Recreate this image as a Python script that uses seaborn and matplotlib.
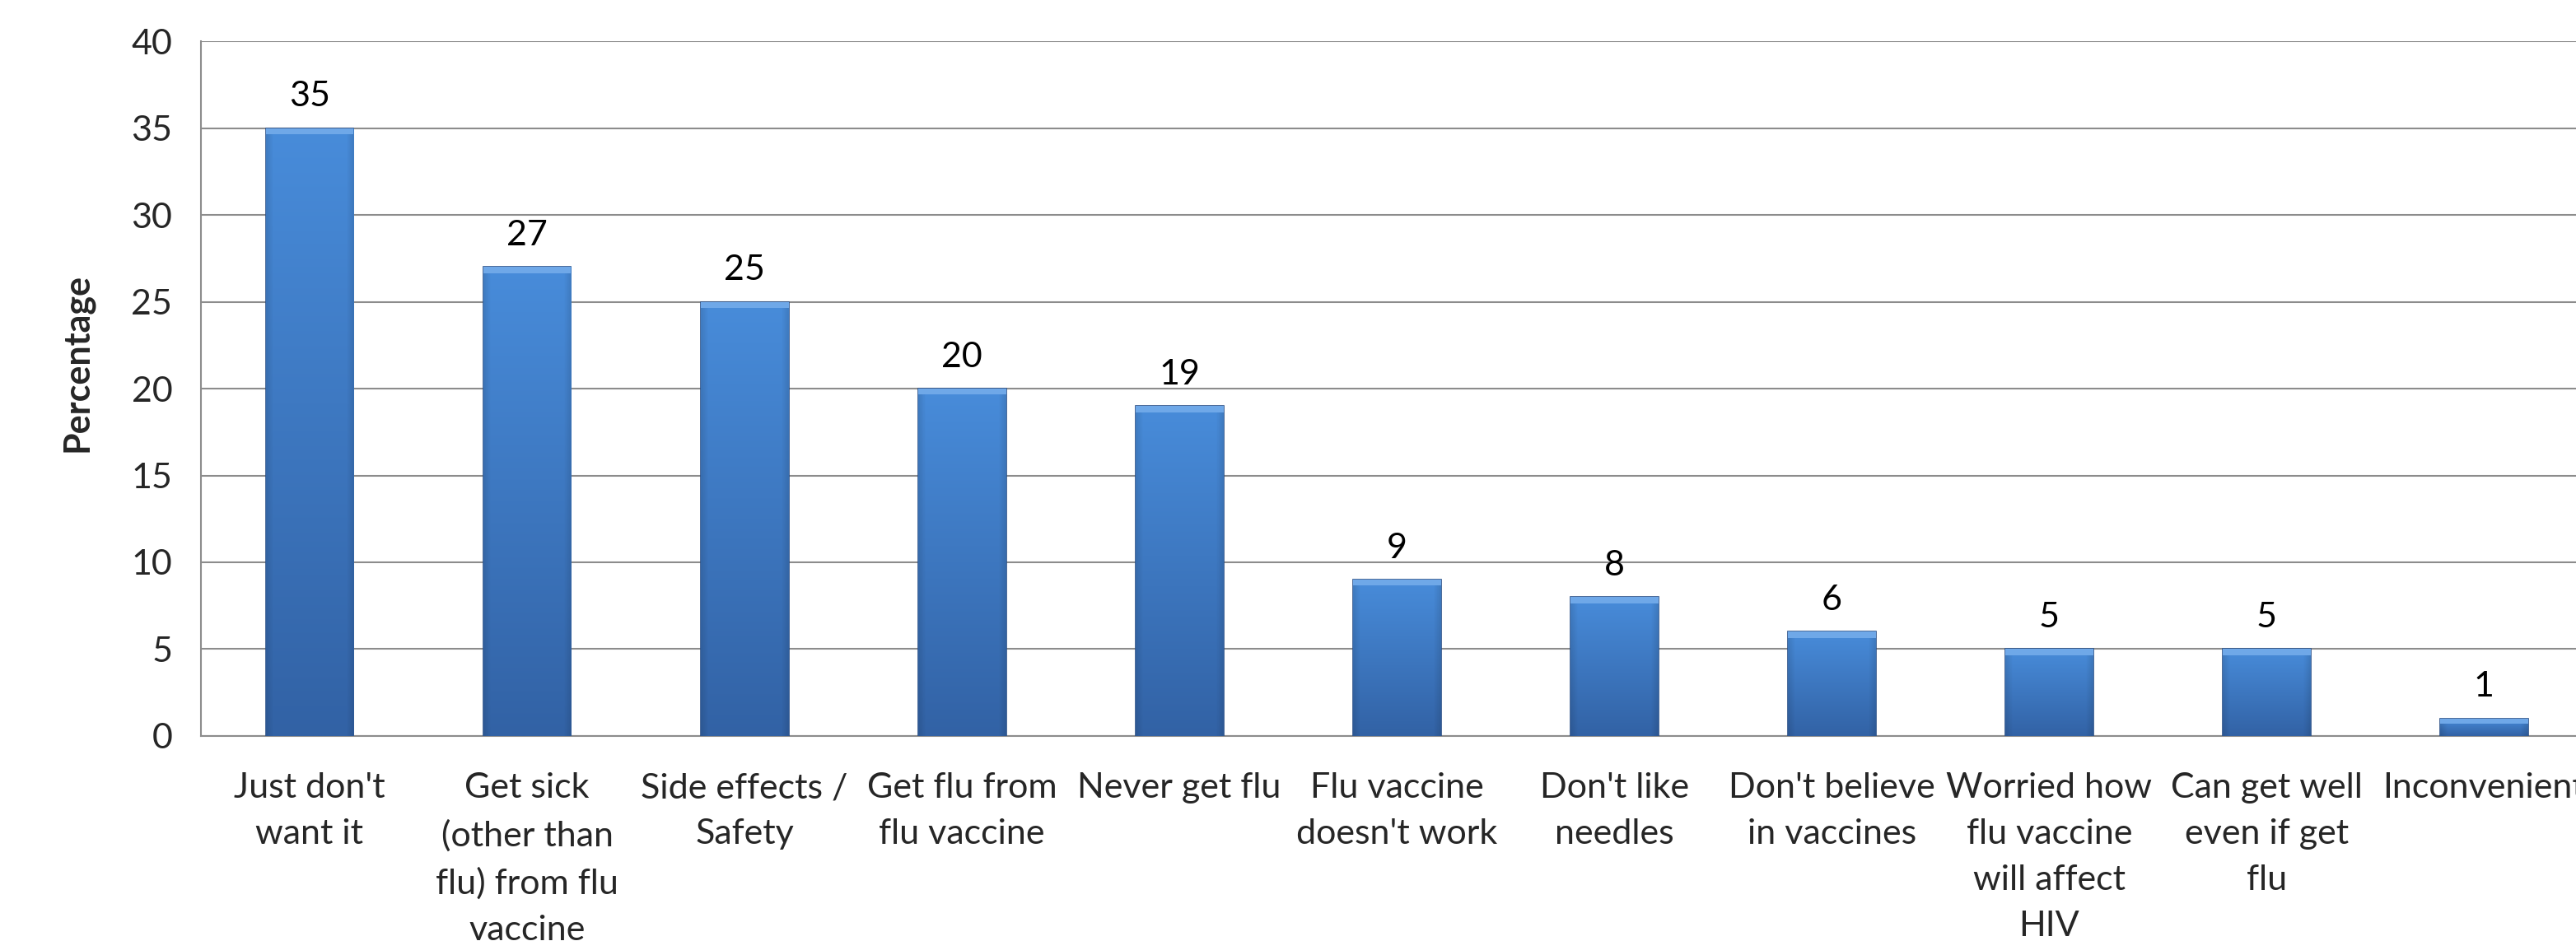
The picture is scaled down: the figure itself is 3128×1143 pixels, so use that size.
import matplotlib
matplotlib.use("Agg")
import matplotlib.pyplot as plt
import seaborn as sns
import numpy as np
import pandas as pd

categories = ["Just don't want it", "Get sick (other than flu) from flu vaccine",
              "Side effects / Safety", "Get flu from flu vaccine", "Never get flu",
              "Flu vaccine doesn't work", "Don't like needles", "Don't believe in vaccines",
              "Worried how flu vaccine will affect HIV", "Can get well even if get flu",
              "Inconvenient"]
values = [35, 27, 25, 20, 19, 9, 8, 6, 5, 5, 1]
tick_labels = ["Just don't\nwant it", "Get sick\n(other than\nflu) from flu\nvaccine",
               "Side effects /\nSafety", "Get flu from\nflu vaccine", "Never get flu",
               "Flu vaccine\ndoesn't work", "Don't like\nneedles", "Don't believe\nin vaccines",
               "Worried how\nflu vaccine\nwill affect\nHIV", "Can get well\neven if get\nflu",
               "Inconvenient"]

df = pd.DataFrame({"reason": categories, "pct": values})

sns.set_theme(style="white")
plt.rcParams['font.family'] = ['Lato', 'DejaVu Sans']

fig = plt.figure(figsize=(31.28, 11.43), dpi=100)
ax = fig.add_axes([0.078, 0.218, 0.9285, 0.738])

sns.barplot(data=df, x="reason", y="pct", color="#3F7BC8", width=0.405,
            saturation=1, ax=ax, zorder=3)

# gradient fill like the excel bevel bars
top = np.array([72, 140, 218]) / 255
bot = np.array([50, 98, 165]) / 255
t = np.linspace(0, 1, 200)[:, None]
col = top * (1 - t) + bot * t
grad = np.repeat(col[:, None, :], 40, axis=1)
edge = np.abs(np.linspace(-1, 1, 40))
shade = 1 - 0.10 * np.clip((edge - 0.85) / 0.15, 0, 1)
grad = grad * shade[None, :, None]

for p in ax.patches:
    x0, y0 = p.get_x(), p.get_y()
    w, h = p.get_width(), p.get_height()
    p.set_edgecolor("#2A4F86")
    p.set_linewidth(1.2)
    im = ax.imshow(grad, extent=[x0, x0 + w, y0, y0 + h], aspect='auto',
                   origin='upper', zorder=3.5)
    im.set_clip_path(p)
    # light top bevel
    ax.fill_between([x0, x0 + w], y0 + h - min(0.35, h * 0.3), y0 + h,
                    color="#6FA8E8", zorder=3.6, lw=0)

ax.bar_label(ax.containers[0], labels=[str(v) for v in values], padding=14,
             fontsize=31, color="black")

ax.set_xlim(-0.5, len(categories) - 0.5)
ax.set_ylim(0, 40)
ax.set_yticks(range(0, 41, 5))
ax.yaxis.grid(True, color="#8C8C8C", linewidth=1.5, zorder=0)
ax.set_axisbelow(True)

ax.set_xticks(range(len(categories)))
ax.set_xticklabels(tick_labels, fontsize=31, linespacing=1.58)
ax.set_xticks(np.arange(0.5, len(categories) - 0.5, 1), minor=True)
ax.tick_params(axis='x', which='major', length=0, pad=32)
ax.tick_params(axis='x', which='minor', length=15, width=1.5, color="#8C8C8C")
ax.tick_params(axis='y', length=15, width=1.5, color="#8C8C8C", labelsize=31, pad=10)

for s in ["top", "right"]:
    ax.spines[s].set_visible(False)
for s in ["left", "bottom"]:
    ax.spines[s].set_color("#8C8C8C")
    ax.spines[s].set_linewidth(1.5)

ax.set_xlabel("")
ax.set_ylabel("Percentage", fontsize=31, fontweight="bold")
ax.yaxis.set_label_coords(-0.045, 0.538)

fig.savefig("out.png", dpi=100)
